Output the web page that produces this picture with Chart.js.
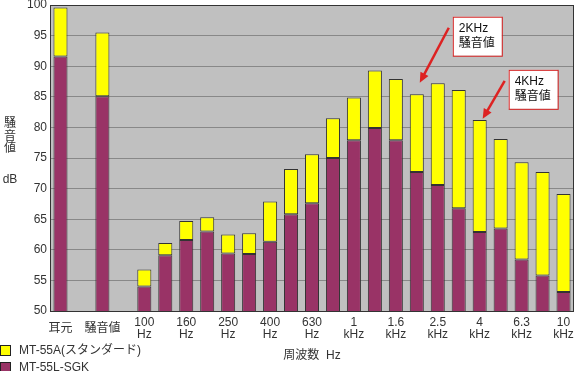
<!DOCTYPE html>
<html>
<head>
<meta charset="utf-8">
<script src="https://cdn.jsdelivr.net/npm/chart.js@4/dist/chart.umd.min.js"></script>
<style>
  html, body { margin: 0; padding: 0; background: #fff; }
  #wrap { width: 576px; height: 371px; position: relative; }
</style>
</head>
<body>
<div id="wrap"><canvas id="chart"></canvas></div>
<script>
// categories (blank slots keep the gaps between groups)
const categories = ['耳元', '', '騒音値', '', '100Hz', '125Hz', '160Hz', '200Hz', '250Hz', '315Hz', '400Hz', '500Hz', '630Hz', '800Hz',
  '1kHz', '1.25kHz', '1.6kHz', '2kHz', '2.5kHz', '3.15kHz', '4kHz', '5kHz', '6.3kHz', '8kHz', '10kHz'];
const tickLabels = [['耳元'], '', ['騒音値'], '', ['100', 'Hz'], '', ['160', 'Hz'], '', ['250', 'Hz'], '', ['400', 'Hz'], '',
  ['630', 'Hz'], '', ['1', 'kHz'], '', ['1.6', 'kHz'], '', ['2.5', 'kHz'], '', ['4', 'kHz'], '', ['6.3', 'kHz'], '', ['10', 'kHz']];
const yTicks = [50, 55, 60, 65, 70, 75, 80, 85, 90, 95, 100];

// MT-55A (standard) - top of yellow bar
const mt55a = [99.6, null, 95.5, null, 56.8, 61.1, 64.7, 65.3, 62.5, 62.7, 67.9, 73.2, 75.6, 81.5, 84.9, 89.3, 87.9, 85.4,
  87.2, 86.1, 81.2, 78.1, 74.3, 72.7, 69.1];
// MT-55L-SGK - purple bar
const mt55l = [91.6, null, 85.1, null, 54.0, 59.1, 61.6, 63.0, 59.4, 59.3, 61.3, 65.8, 67.6, 75.0, 77.9, 79.9, 77.9, 72.7,
  70.6, 66.8, 62.9, 63.5, 58.4, 55.8, 53.1];

const FONT = '"Liberation Sans", "Noto Sans CJK JP", sans-serif';
const TXT = '#333';

const decor = {
  id: 'decor',
  beforeDraw(chart) {
    const { ctx, chartArea: a } = chart;
    ctx.save();
    ctx.fillStyle = '#c0c0c0';
    ctx.fillRect(a.left, a.top, a.right - a.left, a.bottom - a.top);
    ctx.restore();
  },
  afterDraw(chart) {
    const { ctx, chartArea: a, scales } = chart;
    const x = scales.x, y = scales.y;
    ctx.save();
    // plot frame
    ctx.strokeStyle = '#333';
    ctx.lineWidth = 1;
    ctx.strokeRect(a.left + 0.5, a.top + 0.5, a.right - a.left - 1, a.bottom - a.top);

    ctx.fillStyle = TXT;
    ctx.font = '12px ' + FONT;
    ctx.textAlign = 'center';
    ctx.textBaseline = 'middle';
    // y axis title, upright stacked
    ['騒', '音', '値'].forEach((c, i) => ctx.fillText(c, 10, 124 + i * 12.5));
    ctx.fillText('dB', 10, 180);
    // x axis title
    ctx.fillText('周波数  Hz', (a.left + a.right) / 2, 356);

    // legend
    ctx.textAlign = 'left';
    chart.data.datasets.forEach((ds, i) => {
      const ty = 345 + i * 17;
      ctx.fillStyle = ds.backgroundColor;
      ctx.fillRect(0.5, ty + 0.5, 10, 10);
      ctx.strokeStyle = '#222';
      ctx.strokeRect(0.5, ty + 0.5, 10, 10);
      ctx.fillStyle = TXT;
      ctx.fillText(ds.label, 19, ty + 5.5);
    });

    // callouts
    const callouts = [
      { cat: 17, val: 87.3, text: ['2KHz', '騒音値'], bx: 33, by: -66, dx: 29, dy: -55 },
      { cat: 20, val: 81.4, text: ['4KHz', '騒音値'], bx: 26, by: -49, dx: 22, dy: -38 }
    ];
    callouts.forEach(c => {
      const tx = x.getPixelForValue(c.cat) + 3;
      const ty = y.getPixelForValue(c.val);
      const bx = tx + c.bx, by = ty + c.by;
      ctx.fillStyle = '#fff';
      ctx.fillRect(bx, by, 49, 39);
      ctx.strokeStyle = '#d42020';
      ctx.lineWidth = 1;
      ctx.strokeRect(bx + 0.5, by + 0.5, 49, 39);
      ctx.fillStyle = '#111';
      ctx.textBaseline = 'middle';
      ctx.fillText(c.text[0], bx + 6, by + 12);
      ctx.fillText(c.text[1], bx + 6, by + 27);
      // arrow
      const sx = tx + c.dx, sy = ty + c.dy;
      const ang = Math.atan2(ty - sy, tx - sx);
      ctx.strokeStyle = '#dd2222';
      ctx.fillStyle = '#dd2222';
      ctx.lineWidth = 2.5;
      ctx.beginPath();
      ctx.moveTo(sx, sy);
      ctx.lineTo(tx - 6 * Math.cos(ang), ty - 6 * Math.sin(ang));
      ctx.stroke();
      ctx.beginPath();
      ctx.moveTo(tx, ty);
      ctx.lineTo(tx - 10 * Math.cos(ang) + 4.5 * Math.sin(ang), ty - 10 * Math.sin(ang) - 4.5 * Math.cos(ang));
      ctx.lineTo(tx - 10 * Math.cos(ang) - 4.5 * Math.sin(ang), ty - 10 * Math.sin(ang) + 4.5 * Math.cos(ang));
      ctx.closePath();
      ctx.fill();
    });
    ctx.restore();
  }
};

new Chart(document.getElementById('chart'), {
  type: 'bar',
  data: {
    labels: categories,
    datasets: [
      {
        label: 'MT-55A(スタンダード)',
        data: categories.map((c, i) => mt55a[i] == null ? null : [mt55l[i], mt55a[i]]),
        backgroundColor: '#ffff00',
        borderColor: '#333',
        borderWidth: 1,
        borderSkipped: false,
        grouped: false,
        order: 1
      },
      {
        label: 'MT-55L-SGK',
        data: mt55l,
        backgroundColor: '#993366',
        borderColor: '#333',
        borderWidth: 1,
        borderSkipped: false,
        grouped: false,
        order: 2
      }
    ]
  },
  options: {
    responsive: true,
    maintainAspectRatio: false,
    animation: false,
    layout: { padding: { top: 5, right: 2, left: 0, bottom: 0 } },
    datasets: { bar: { categoryPercentage: 1, barPercentage: 0.67 } },
    plugins: { legend: { display: false }, tooltip: { enabled: false } },
    scales: {
      x: {
        grid: { display: false, drawTicks: false },
        border: { display: false },
        ticks: {
          autoSkip: false, maxRotation: 0, padding: 12, crossAlign: 'center',
          color: TXT, font: { family: FONT, size: 12, lineHeight: 0.97 },
          callback: (v, i) => tickLabels[i]
        },
        afterFit: s => { s.height = 60; s.paddingLeft = 0; s.paddingRight = 0; }
      },
      y: {
        min: 50, max: 100,
        afterBuildTicks: s => { s.ticks = yTicks.map(v => ({ value: v })); },
        grid: { color: '#888', drawTicks: false, lineWidth: 1 },
        border: { display: false },
        ticks: { padding: 3, color: TXT, font: { family: FONT, size: 12 } },
        afterFit: s => { s.width = 50; s.paddingTop = 0; s.paddingBottom = 0; }
      }
    }
  },
  plugins: [decor]
});
</script>
</body>
</html>
